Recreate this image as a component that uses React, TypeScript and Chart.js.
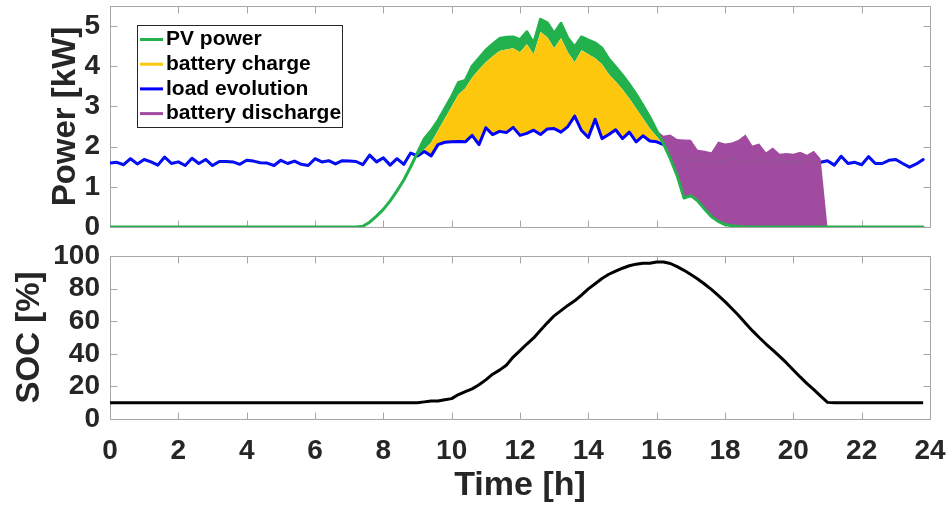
import React, { useEffect, useRef } from 'react';
import { Chart, registerables } from 'chart.js';

Chart.register(...registerables);

// ---------- data (sampled every 0.2 h, 0 .. 23.8 h) ----------
const STEP_H = 0.2;

const pvPower = [
  0, 0, 0, 0, 0, 0, 0, 0, 0, 0,
  0, 0, 0, 0, 0, 0, 0, 0, 0, 0,
  0, 0, 0, 0, 0, 0, 0, 0, 0, 0,
  0, 0, 0, 0, 0, 0, 0, 0.02, 0.12, 0.27,
  0.44, 0.65, 0.9, 1.17, 1.5, 1.85, 2.2, 2.4, 2.65, 2.95,
  3.25, 3.6, 3.65, 4.0, 4.2, 4.4, 4.55, 4.69, 4.72, 4.73,
  4.66, 4.86, 4.57, 5.17, 5.08, 4.82, 5.07, 4.7, 4.48, 4.73,
  4.65, 4.58, 4.45, 4.18, 3.98, 3.78, 3.55, 3.3, 3.02, 2.73,
  2.4, 2.07, 1.7, 1.28, 0.72, 0.78, 0.65, 0.45, 0.26, 0.14,
  0.06, 0.03, 0.01, 0, 0, 0, 0, 0, 0, 0,
  0, 0, 0, 0, 0, 0, 0, 0, 0, 0,
  0, 0, 0, 0, 0, 0, 0, 0, 0, 0,
];

const loadEvolution = [
  1.59, 1.61, 1.55, 1.70, 1.57, 1.68, 1.62, 1.54, 1.74, 1.58,
  1.62, 1.53, 1.71, 1.58, 1.68, 1.53, 1.63, 1.63, 1.62, 1.56,
  1.66, 1.64, 1.60, 1.59, 1.53, 1.66, 1.58, 1.64, 1.56, 1.53,
  1.70, 1.62, 1.65, 1.57, 1.65, 1.64, 1.63, 1.55, 1.79, 1.62,
  1.72, 1.54, 1.70, 1.56, 1.84, 1.77, 1.88, 1.77, 2.05, 2.11,
  2.12, 2.13, 2.12, 2.28, 2.05, 2.47, 2.30, 2.38, 2.35, 2.48,
  2.28, 2.33, 2.41, 2.30, 2.44, 2.45, 2.36, 2.50, 2.76, 2.40,
  2.23, 2.68, 2.20, 2.30, 2.42, 2.20, 2.36, 2.12, 2.27, 2.14,
  2.12, 2.05, 1.92, 1.78, 1.72, 1.65, 1.75, 1.62, 1.70, 1.58,
  1.66, 1.72, 1.60, 1.68, 1.57, 1.70, 1.63, 1.61, 1.74, 1.58,
  1.66, 1.60, 1.70, 1.58, 1.61, 1.65, 1.54, 1.76, 1.58, 1.61,
  1.55, 1.75, 1.58, 1.58, 1.66, 1.68, 1.58, 1.49, 1.57, 1.68,
];

const batteryCharge = [
  0, 0, 0, 0, 0, 0, 0, 0, 0, 0,
  0, 0, 0, 0, 0, 0, 0, 0, 0, 0,
  0, 0, 0, 0, 0, 0, 0, 0, 0, 0,
  0, 0, 0, 0, 0, 0, 0, 0, 0, 0,
  0, 0, 0, 0, 0, 0, 0.05, 0.33, 0.35, 0.59,
  0.88, 1.17, 1.33, 1.44, 1.87, 1.63, 1.95, 2.0, 2.07, 1.97,
  2.07, 2.22, 1.89, 2.55, 2.28, 2.0, 2.34, 1.85, 1.34, 2.0,
  2.07, 1.52, 1.85, 1.5, 1.2, 1.22, 0.84, 0.83, 0.43, 0.31,
  0.13, 0, 0, 0, 0, 0, 0, 0, 0, 0,
  0, 0, 0, 0, 0, 0, 0, 0, 0, 0,
  0, 0, 0, 0, 0, 0, 0, 0, 0, 0,
  0, 0, 0, 0, 0, 0, 0, 0, 0, 0,
];

const batteryDischarge = [
  0, 0, 0, 0, 0, 0, 0, 0, 0, 0,
  0, 0, 0, 0, 0, 0, 0, 0, 0, 0,
  0, 0, 0, 0, 0, 0, 0, 0, 0, 0,
  0, 0, 0, 0, 0, 0, 0, 0, 0, 0,
  0, 0, 0, 0, 0, 0, 0, 0, 0, 0,
  0, 0, 0, 0, 0, 0, 0, 0, 0, 0,
  0, 0, 0, 0, 0, 0, 0, 0, 0, 0,
  0, 0, 0, 0, 0, 0, 0, 0, 0, 0,
  0, 0.2, 0.6, 0.91, 1.46, 1.39, 1.27, 1.45, 1.6, 1.99,
  2.02, 2.07, 2.16, 2.3, 2.03, 2.08, 1.86, 1.98, 1.82, 1.84,
  1.82, 1.87, 1.8, 1.9, 1.7, 0, 0, 0, 0, 0,
  0, 0, 0, 0, 0, 0, 0, 0, 0, 0,
];

const stateOfCharge = [
  10, 10, 10, 10, 10, 10, 10, 10, 10, 10,
  10, 10, 10, 10, 10, 10, 10, 10, 10, 10,
  10, 10, 10, 10, 10, 10, 10, 10, 10, 10,
  10, 10, 10, 10, 10, 10, 10, 10, 10, 10,
  10, 10, 10, 10, 10, 10, 10.5, 11, 11, 11.8,
  12.5, 15, 16.8, 18.5, 21, 24, 27.5, 30, 33, 38,
  42, 46, 49.7, 54.5, 59, 63.3, 66.5, 69.7, 72.5, 76,
  79.8, 83, 86.2, 88.8, 90.7, 92.5, 94, 95, 95.5, 95.5,
  96.3, 96.3, 95.4, 93.5, 91.2, 88.6, 85.9, 82.8, 79.5, 75.8,
  72, 67.8, 63.5, 58.8, 54.2, 50, 46, 42.3, 38.4, 34.4,
  30.1, 25.8, 21.7, 18, 14, 10.2, 10, 10, 10, 10,
  10, 10, 10, 10, 10, 10, 10, 10, 10, 10,
];

const timeTicks = [0, 2, 4, 6, 8, 10, 12, 14, 16, 18, 20, 22, 24];
const powerTicks = [0, 1, 2, 3, 4, 5];
const socTicks = [0, 20, 40, 60, 80, 100];

// ---------- styling ----------
const FONT = "'Liberation Sans', Arial, Helvetica, sans-serif";
const TEXT = '#262626';
const FRAME = '#a6a6a6';
const GREEN = '#22b14c';
const YELLOW = '#fdc70e';
const BLUE = '#0000ff';
const PURPLE = '#a14ba0';
const CLEAR = 'rgba(0,0,0,0)';

const zeroPad = (s: any) => {
  s.paddingTop = 0;
  s.paddingBottom = 0;
  s.paddingLeft = 0;
  s.paddingRight = 0;
};

const framePlugin = {
  id: 'matlabFrame',
  beforeDatasetsDraw(chart: any, _args: any, opts: any) {
    const { ctx, chartArea: a, scales } = chart;
    const L = Math.round(a.left) + 0.5;
    const R = Math.round(a.right) + 0.5;
    const T = Math.round(a.top) + 0.5;
    const B = Math.round(a.bottom) + 0.5;
    const tl = 7;
    ctx.save();
    ctx.strokeStyle = FRAME;
    ctx.lineWidth = 1;
    ctx.beginPath();
    ctx.rect(L, T, R - L, B - T);
    (opts.xTicks || []).forEach((v: number) => {
      const px = Math.round(scales.x.getPixelForValue(v)) + 0.5;
      ctx.moveTo(px, B); ctx.lineTo(px, B - tl);
      ctx.moveTo(px, T); ctx.lineTo(px, T + tl);
    });
    (opts.yTicks || []).forEach((v: number) => {
      const py = Math.round(scales.y.getPixelForValue(v)) + 0.5;
      ctx.moveTo(L, py); ctx.lineTo(L + tl, py);
      ctx.moveTo(R, py); ctx.lineTo(R - tl, py);
    });
    ctx.stroke();
    ctx.restore();
  },
};

const boxLegendPlugin = {
  id: 'boxLegend',
  afterDatasetsDraw(chart: any, _args: any, opts: any) {
    if (!opts || !opts.order) return;
    const { ctx, chartArea: a } = chart;
    const x0 = Math.round(a.left) + 27;
    const y0 = Math.round(a.top) + 19;
    const w = 205;
    const h = 102;
    ctx.save();
    ctx.fillStyle = '#ffffff';
    ctx.fillRect(x0, y0, w, h);
    ctx.strokeStyle = TEXT;
    ctx.lineWidth = 1;
    ctx.strokeRect(x0 + 0.5, y0 + 0.5, w, h);
    ctx.font = `bold 21px ${FONT}`;
    ctx.textBaseline = 'middle';
    ctx.textAlign = 'left';
    opts.order.forEach((di: number, k: number) => {
      const ds = chart.data.datasets[di];
      const y = y0 + 14.5 + k * 24.7;
      ctx.strokeStyle = ds.legendColor;
      ctx.lineWidth = 3;
      ctx.beginPath();
      ctx.moveTo(x0 + 3, y);
      ctx.lineTo(x0 + 26, y);
      ctx.stroke();
      ctx.fillStyle = '#000000';
      ctx.fillText(ds.label, x0 + 29, y);
    });
    ctx.restore();
  },
};

export default function App() {
  const topRef = useRef<HTMLCanvasElement>(null);
  const botRef = useRef<HTMLCanvasElement>(null);

  useEffect(() => {
    if (!topRef.current || !botRef.current) return;
    const times = loadEvolution.map((_, i) => Math.round(i * STEP_H * 100) / 100);
    const pts = (vals: number[]) => vals.map((v, i) => ({ x: times[i], y: v }));
    const chargeTop = loadEvolution.map((v, i) => v + batteryCharge[i]);
    const dischargeTop = pvPower.map((v, i) => v + batteryDischarge[i]);

    const tickFont = { family: FONT, size: 28, weight: 'bold' as const };
    const titleFont = { family: FONT, size: 33, weight: 'bold' as const };
    const xTitleFont = { family: FONT, size: 34, weight: 'bold' as const };

    const top = new Chart(topRef.current, {
      type: 'line',
      data: {
        datasets: [
          {
            label: 'PV power',
            legendColor: GREEN,
            data: pts(pvPower),
            borderColor: GREEN,
            borderWidth: 3,
            pointRadius: 0,
            fill: { target: 3, above: GREEN, below: CLEAR },
          } as any,
          {
            label: 'battery discharge',
            legendColor: PURPLE,
            data: pts(dischargeTop),
            borderColor: PURPLE,
            borderWidth: 0,
            pointRadius: 0,
            fill: { target: 0, above: PURPLE, below: CLEAR },
          } as any,
          {
            label: 'load evolution',
            legendColor: BLUE,
            data: pts(loadEvolution),
            borderColor: BLUE,
            borderWidth: 3,
            pointRadius: 0,
            fill: false,
          } as any,
          {
            label: 'battery charge',
            legendColor: YELLOW,
            data: pts(chargeTop),
            borderColor: YELLOW,
            borderWidth: 0,
            pointRadius: 0,
            fill: { target: 2, above: YELLOW, below: CLEAR },
          } as any,
        ],
      },
      options: {
        responsive: false,
        animation: false,
        events: [],
        layout: { autoPadding: false, padding: { left: 0, right: 19, top: 6, bottom: 13 } },
        elements: { line: { tension: 0, borderJoinStyle: 'round', borderCapStyle: 'round' } },
        scales: {
          x: { type: 'linear', min: 0, max: 24, display: false },
          y: {
            type: 'linear',
            min: 0,
            max: 5.5,
            afterBuildTicks: (s: any) => { s.ticks = powerTicks.map((v) => ({ value: v })); },
            afterFit: (s: any) => { s.width = 110; zeroPad(s); },
            grid: { display: false, drawTicks: false },
            border: { display: false },
            ticks: { font: tickFont, color: TEXT, padding: 10, autoSkip: false },
            title: { display: true, text: 'Power [kW]', font: titleFont, color: TEXT, padding: { top: 46, bottom: 0 } },
          },
        },
        plugins: {
          legend: { display: false },
          tooltip: { enabled: false },
          matlabFrame: { xTicks: timeTicks, yTicks: powerTicks },
          boxLegend: { order: [0, 3, 2, 1] },
        } as any,
      },
      plugins: [framePlugin, boxLegendPlugin],
    });

    const bot = new Chart(botRef.current, {
      type: 'line',
      data: {
        datasets: [
          {
            label: 'SOC',
            data: pts(stateOfCharge),
            borderColor: '#000000',
            borderWidth: 3,
            pointRadius: 0,
            fill: false,
          },
        ],
      },
      options: {
        responsive: false,
        animation: false,
        events: [],
        layout: { autoPadding: false, padding: { left: 0, right: 19, top: 16, bottom: 0 } },
        elements: { line: { tension: 0, borderJoinStyle: 'round' } },
        scales: {
          x: {
            type: 'linear',
            min: 0,
            max: 24,
            afterBuildTicks: (s: any) => { s.ticks = timeTicks.map((v) => ({ value: v })); },
            afterFit: (s: any) => { s.height = 88; zeroPad(s); },
            grid: { display: false, drawTicks: false },
            border: { display: false },
            ticks: { font: tickFont, color: TEXT, padding: 15, maxRotation: 0, autoSkip: false },
            title: { display: true, text: 'Time [h]', font: xTitleFont, color: TEXT, padding: { top: 0, bottom: 1 } },
          },
          y: {
            type: 'linear',
            min: 0,
            max: 100,
            afterBuildTicks: (s: any) => { s.ticks = socTicks.map((v) => ({ value: v })); },
            afterFit: (s: any) => { s.width = 110; zeroPad(s); },
            grid: { display: false, drawTicks: false },
            border: { display: false },
            ticks: { font: tickFont, color: TEXT, padding: 10, autoSkip: false },
            title: { display: true, text: 'SOC [%]', font: titleFont, color: TEXT, padding: { top: 10, bottom: 0 } },
          },
        },
        plugins: {
          legend: { display: false },
          tooltip: { enabled: false },
          matlabFrame: { xTicks: timeTicks, yTicks: socTicks },
        } as any,
      },
      plugins: [framePlugin],
    });

    return () => {
      top.destroy();
      bot.destroy();
    };
  }, []);

  return (
    <div style={{ position: 'absolute', left: 0, top: 0, width: 949, height: 507, background: '#ffffff' }}>
      <canvas ref={topRef} width={949} height={240} style={{ position: 'absolute', left: 0, top: 0 }} />
      <canvas ref={botRef} width={949} height={267} style={{ position: 'absolute', left: 0, top: 240 }} />
    </div>
  );
}
